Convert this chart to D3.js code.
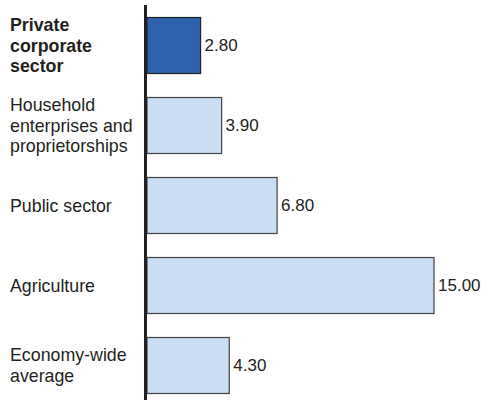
<!DOCTYPE html>
<html>
<head>
<meta charset="utf-8">
<script src="https://cdn.jsdelivr.net/npm/d3@7"></script>
<style>
  html, body { margin: 0; padding: 0; background: #fff; }
  svg { display: block; }
  text { font-family: "Liberation Sans", Arial, sans-serif; fill: #231f20; }
</style>
</head>
<body>
<svg id="chart" width="486" height="400"></svg>
<script>
// Sector labels (each entry is the list of lines shown for that bar)
const categories = [
  ["Private", "corporate", "sector"],
  ["Household", "enterprises and", "proprietorships"],
  ["Public sector"],
  ["Agriculture"],
  ["Economy-wide", "average"]
];
const values = [2.80, 3.90, 6.80, 15.00, 4.30];
const highlighted = [true, false, false, false, false];

const svg = d3.select("#chart");
const axisX = 145.5;

const x = d3.scaleLinear().domain([0, 15]).range([axisX + 1.5, 434]);
const y = d3.scaleBand()
  .domain(d3.range(values.length))
  .range([17, 394])
  .paddingInner(0.2875)
  .paddingOuter(0);

const rows = values.map((v, i) => ({ v, i, lines: categories[i], hi: highlighted[i] }));

// bars
svg.append("g").selectAll("rect")
  .data(rows)
  .join("rect")
  .attr("x", x(0))
  .attr("y", d => y(d.i) + 0.5)
  .attr("width", d => x(d.v) - x(0))
  .attr("height", y.bandwidth() - 1)
  .attr("fill", d => d.hi ? "#2e62ae" : "#c9def3")
  .attr("stroke", d => d.hi ? "#222" : "#444")
  .attr("stroke-width", 1.2);

// value labels
svg.append("g").selectAll("text")
  .data(rows)
  .join("text")
  .attr("x", d => x(d.v) + 4)
  .attr("y", d => y(d.i) + y.bandwidth() / 2)
  .attr("dy", "0.35em")
  .style("font-size", "17px")
  .text(d => d.v.toFixed(2));

// category labels
const lineH = 20.5;
const cat = svg.append("g").selectAll("text")
  .data(rows)
  .join("text")
  .attr("x", 10)
  .attr("y", d => y(d.i) + y.bandwidth() / 2 - (d.lines.length - 1) * lineH / 2)
  .style("font-size", "17.8px")
  .style("font-weight", d => d.hi ? "bold" : "normal");
cat.selectAll("tspan")
  .data(d => d.lines.map((t, k) => ({ t, k })))
  .join("tspan")
  .attr("x", 10)
  .attr("dy", d => d.k === 0 ? "0.35em" : lineH)
  .text(d => d.t);

// vertical category axis line
svg.append("line")
  .attr("x1", axisX).attr("x2", axisX)
  .attr("y1", 5).attr("y2", 400)
  .attr("stroke", "#231f20")
  .attr("stroke-width", 3);
</script>
</body>
</html>
